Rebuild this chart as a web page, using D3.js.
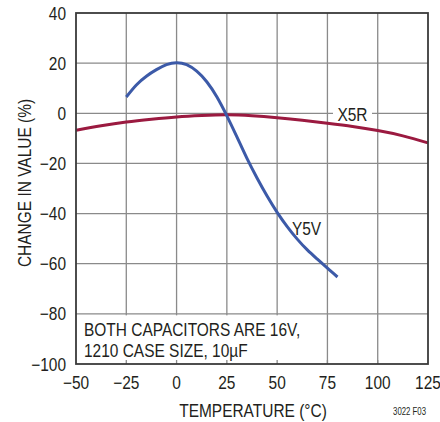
<!DOCTYPE html>
<html><head><meta charset="utf-8">
<script src="https://cdn.jsdelivr.net/npm/d3@7"></script>
<style>
body{margin:0;background:#fff;}
svg text{font-family:"Liberation Sans","Arial",sans-serif;fill:#231f20;}
</style></head><body>
<svg id="c" width="440" height="422"></svg>
<script>
const xTicks = [-50,-25,0,25,50,75,100,125];
const yTicks = [40,20,0,-20,-40,-60,-80,-100];
const x5rTemp = [-50,-37.5,-25,-12.5,0,12.5,25,37.5,50,62.5,75,87.5,100,112.5,125];
const x5rVal  = [-6.8,-5.0,-3.5,-2.4,-1.5,-0.9,-0.6,-1.0,-1.8,-2.8,-4.0,-5.3,-6.9,-9.0,-11.8];
const y5vTemp = [-25,-20,-15,-10,-5,0,5,10,15,20,25,30,35,40,45,50,55,60,65,70,75,80];
const y5vVal  = [6.5,11.3,14.8,17.4,19.4,20.2,19.4,16.8,12.6,6.6,-1,-9.4,-18,-25.8,-33,-39.5,-45.2,-50.2,-54.5,-58.2,-61.8,-65.3];
const fmt = v => (v<0?"\u2212"+Math.abs(v):String(v));

const svg = d3.select("#c");
const L=76, T=13, W=352, H=351;
const SX = 0.86;
const x = d3.scaleLinear().domain([-50,125]).range([L,L+W]);
const y = d3.scaleLinear().domain([-100,40]).range([T+H,T]);

function txt(g, px, py, s, size, anchor, sx, rot){
  return g.append("text")
    .attr("transform",`translate(${px},${py})${rot?` rotate(${rot})`:""} scale(${sx},1)`)
    .attr("text-anchor",anchor).attr("font-size",size).text(s);
}

// grid
svg.append("g").selectAll("line").data(xTicks.slice(1,-1)).join("line")
  .attr("x1",d=>x(d)).attr("x2",d=>x(d)).attr("y1",T).attr("y2",T+H)
  .attr("stroke","#8a8a8a").attr("stroke-width",1.3);
svg.append("g").selectAll("line").data(yTicks.slice(1,-1)).join("line")
  .attr("y1",d=>y(d)).attr("y2",d=>y(d)).attr("x1",L).attr("x2",L+W)
  .attr("stroke","#8a8a8a").attr("stroke-width",1.3);

// note box
svg.append("rect").attr("x",L+1).attr("y",y(-80)+1.5).attr("width",x(65)-L).attr("height",y(-100)-y(-80)-2)
  .attr("fill","#fff");
svg.append("g").selectAll("line").data(xTicks.slice(1,-1)).join("line")
  .attr("x1",d=>x(d)).attr("x2",d=>x(d)).attr("y1",T+H-4).attr("y2",T+H)
  .attr("stroke","#8a8a8a").attr("stroke-width",1.3);

// curves
const line = d3.line().x(d=>x(d[0])).y(d=>y(d[1])).curve(d3.curveNatural);
svg.append("path").attr("d",line(x5rTemp.map((t,i)=>[t,x5rVal[i]])))
  .attr("fill","none").attr("stroke","#9b1a40").attr("stroke-width",3);
svg.append("path").attr("d",line(y5vTemp.map((t,i)=>[t,y5vVal[i]])))
  .attr("fill","none").attr("stroke","#3c5aa8").attr("stroke-width",3);

// frame
svg.append("rect").attr("x",L).attr("y",T).attr("width",W).attr("height",H)
  .attr("fill","none").attr("stroke","#3a3a3a").attr("stroke-width",1.8);

// tick labels
xTicks.forEach(d=>txt(svg, x(d), 389, fmt(d), 18, "middle", SX));
yTicks.forEach(d=>txt(svg, 66, y(d)+6.5, fmt(d), 18, "end", SX));

// axis titles
txt(svg, 30.5, 183, "CHANGE IN VALUE (%)", 18, "middle", SX, -90);
txt(svg, 253, 417, "TEMPERATURE (°C)", 18, "middle", SX);
txt(svg, 426, 415, "3022 F03", 10, "end", 0.78);

// series labels
svg.append("rect").attr("x",333).attr("y",y(0)-2).attr("width",39).attr("height",4).attr("fill","#fff");
txt(svg, 352.5, 121, "X5R", 18, "middle", SX);
txt(svg, 306.5, 235, "Y5V", 18, "middle", SX);

// note
txt(svg, 84, 336, "BOTH CAPACITORS ARE 16V,", 18, "start", SX);
txt(svg, 84, 357, "1210 CASE SIZE, 10µF", 18, "start", SX);
</script></body></html>
